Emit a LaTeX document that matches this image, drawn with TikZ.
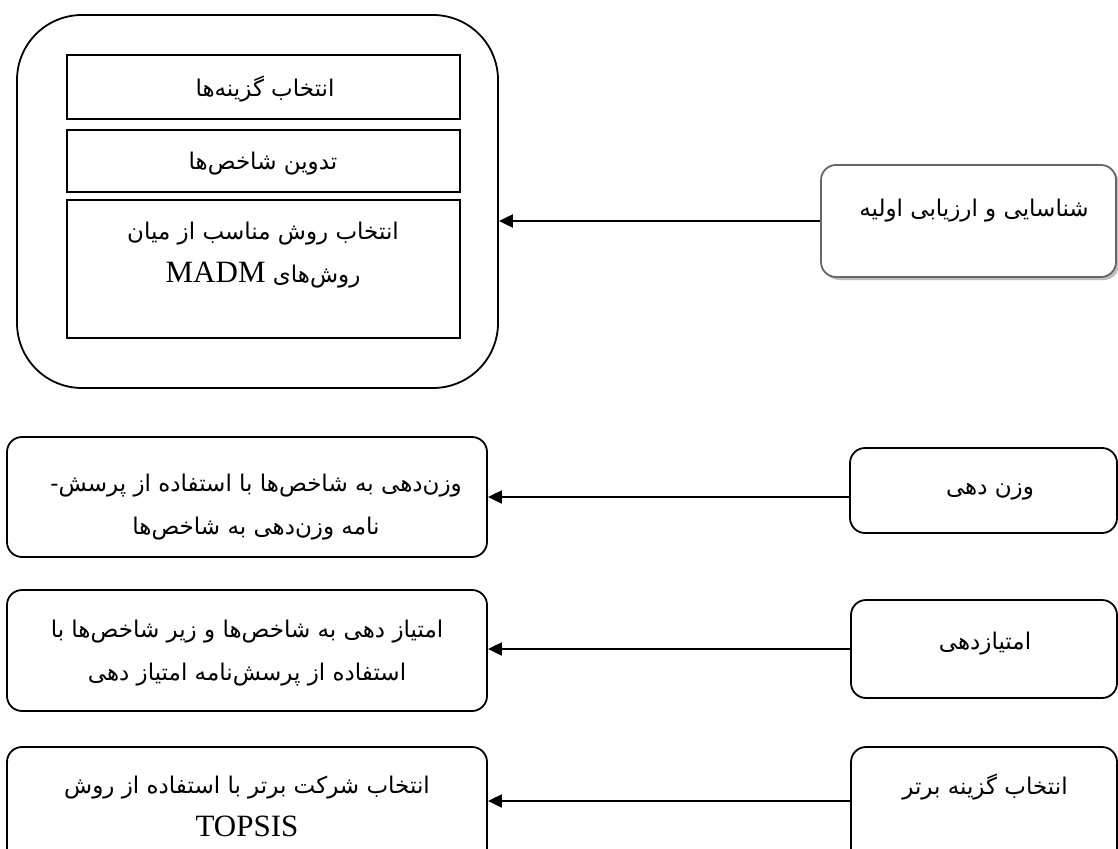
\documentclass[tikz,border=0pt]{standalone}
\usepackage{fontspec}
\setmainfont{Liberation Serif}
\newfontfamily\fa[Script=Arabic]{DejaVu Sans}
\TeXXeTstate=1
\usetikzlibrary{arrows.meta}
\tikzset{
  rbox/.style={draw, line width=1.8pt, rounded corners=15pt, inner sep=0pt},
  sbox/.style={draw, line width=1.8pt, inner sep=0pt},
  txt/.style={align=center, inner sep=0pt, font=\fa\fontsize{23}{43}\selectfont},
  arr/.style={line width=2pt, -{Triangle[length=14pt,width=13pt]}},
}
\begin{document}
\begin{tikzpicture}[x=1pt,y=-1pt]
\useasboundingbox (0,0) rectangle (1118,848);
\clip (0,0) rectangle (1118,848);
% outer group
\node[draw, line width=1.8pt, rounded corners=65pt, minimum width=481pt, minimum height=373pt, inner sep=0pt] (outer) at (257.5,201.5) {};
\node[sbox, minimum width=393pt, minimum height=64pt] (i1) at (263.5,87) {};
\node[sbox, minimum width=393pt, minimum height=62pt] (i2) at (263.5,161) {};
\node[sbox, minimum width=393pt, minimum height=138pt] (i3) at (263.5,269) {};
\node[txt] (ti1) at (265,89) {\beginR انتخاب گزینه‌ها\endR};
\node[txt] (ti2) at (263,164) {\beginR تدوین شاخص‌ها\endR};
\node[txt] (ti3) at (263,255) {\beginR انتخاب روش مناسب از میان\endR\\ \beginR روش‌های {\rmfamily\fontsize{31}{43}\selectfont\beginL MADM\endL}\endR};
% right top box with shadow
\fill[black!25, rounded corners=15pt] (824,168) rectangle (1119,280);
\node[rbox, draw=black!60, fill=white, minimum width=295pt, minimum height=112pt] (ra) at (968.5,221) {};
\node[txt] (tra) at (974,211) {\beginR شناسایی و ارزیابی اولیه\endR};
% lower left boxes
\node[rbox, minimum width=480pt, minimum height=120pt] (l1) at (247,497) {};
\node[rbox, minimum width=480pt, minimum height=121pt] (l2) at (247,650.5) {};
\node[rbox, minimum width=480pt, minimum height=130pt] (l3) at (247,812) {};
\node[txt] (tl1) at (256,507) {\beginR وزن‌دهی به شاخص‌ها با استفاده از پرسش-\endR\\ \beginR نامه وزن‌دهی به شاخص‌ها\endR};
\node[txt] (tl2) at (247,653) {\beginR امتیاز دهی به شاخص‌ها و زیر شاخص‌ها با\endR\\ \beginR استفاده از پرسش‌نامه امتیاز دهی\endR};
\node[txt] (tl3) at (247,806) {\beginR انتخاب شرکت برتر با استفاده از روش\endR\\ {\rmfamily\fontsize{31}{43}\selectfont TOPSIS}};
% lower right boxes
\node[rbox, minimum width=267pt, minimum height=85pt] (r1) at (983.5,490.5) {};
\node[rbox, minimum width=266pt, minimum height=98pt] (r2) at (984,649) {};
\node[rbox, minimum width=266pt, minimum height=123pt] (r3) at (984,808.5) {};
\node[txt] (tr1) at (990,492) {\beginR وزن دهی\endR};
\node[txt] (tr2) at (985,644) {\beginR امتیازدهی\endR};
\node[txt] (tr3) at (985,787) {\beginR انتخاب گزینه برتر\endR};
% connectors
\draw[arr] (ra.west) coordinate (a0) -- (a0 -| outer.east);
\draw[arr] ([yshift=-6.5pt]r1.west) coordinate (a1) -- (a1 -| l1.east);
\draw[arr] (r2.west) coordinate (a2) -- (a2 -| l2.east);
\draw[arr] ([yshift=7.5pt]r3.west) coordinate (a3) -- (a3 -| l3.east);
\end{tikzpicture}
\end{document}
